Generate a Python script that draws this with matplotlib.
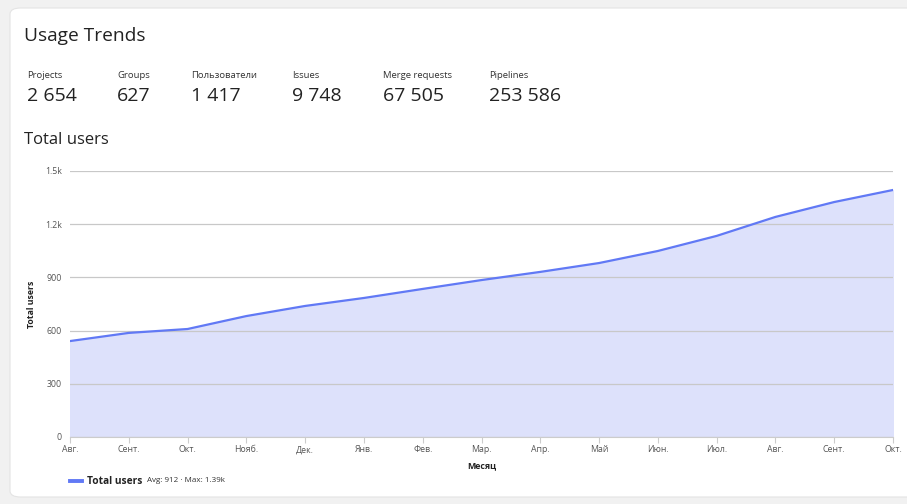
import matplotlib.pyplot as plt
from matplotlib.patches import FancyBboxPatch

# datos
months = ["Авг.", "Сент.", "Окт.", "Нояб.", "Дек.", "Янв.", "Фев.", "Мар.",
          "Апр.", "Май", "Июн.", "Июл.", "Авг.", "Сент.", "Окт."]
total_users = [541, 587, 609, 682, 739, 784, 835, 885, 931, 981, 1049, 1134, 1241, 1325, 1393]
y_ticks = [0, 300, 600, 900, 1200, 1500]
y_tick_labels = ["0", "300", "600", "900", "1.2k", "1.5k"]

stat_names = ["Projects", "Groups", "Пользователи", "Issues", "Merge requests", "Pipelines"]
stat_values = ["2 654", "627", "1 417", "9 748", "67 505", "253 586"]
stat_x = [27, 117, 191, 292, 383, 489]

plt.rcParams['font.family'] = ['Open Sans', 'DejaVu Sans']

W, H = 907, 504
fig = plt.figure(figsize=(W / 100, H / 100), dpi=100, facecolor='#f1f1f1')

def fx(px):
    return px / W

def fy(py):
    return 1 - py / H

# tarjeta blanca
card = FancyBboxPatch((fx(10), fy(497)), fx(940) - fx(10), fy(8) - fy(497),
                      boxstyle="round,pad=0,rounding_size=0.012",
                      transform=fig.transFigure, facecolor='white',
                      edgecolor='#e4e4e4', linewidth=0.8, zorder=-10)
fig.patches.append(card)

fig.text(fx(24), fy(36), "Usage Trends", fontsize=13.8, fontweight='medium', color='#222222', va='center')
for name, val, x in zip(stat_names, stat_values, stat_x):
    fig.text(fx(x), fy(75), name, fontsize=6.8, color='#333333', va='center')
    fig.text(fx(x), fy(96), val, fontsize=14, fontweight='medium', color='#222222', va='center')
fig.text(fx(24), fy(140), "Total users", fontsize=12, fontweight='medium', color='#222222', va='center')

ax = fig.add_axes([fx(70), fy(437), fx(893) - fx(70), fy(171) - fy(437)])
ax.set_facecolor('none')
x = range(len(months))
ax.fill_between(x, total_users, 0, color='#dde1fb', zorder=1)
ax.plot(x, total_users, color='#6179f5', linewidth=1.6, zorder=3)

ax.set_xlim(0, len(months) - 1)
ax.set_ylim(0, 1500)
ax.set_yticks(y_ticks)
ax.set_yticklabels(y_tick_labels)
ax.set_xticks(list(x))
ax.set_xticklabels(months)
ax.grid(axis='y', color='#c8c8c8', linewidth=0.9, zorder=2)
ax.set_axisbelow(False)
for s in ['top', 'right', 'left']:
    ax.spines[s].set_visible(False)
ax.spines['bottom'].set_color('#cccccc')
ax.tick_params(axis='x', colors='#cccccc', labelcolor='#555555', labelsize=6.3, length=4, pad=2)
ax.tick_params(axis='y', colors='#cccccc', labelcolor='#555555', labelsize=6.3, length=0, pad=6)
ax.set_ylabel("Total users", fontsize=6.3, fontweight='bold', color='#222222', labelpad=6)
ax.set_xlabel("Месяц", fontsize=6.3, fontweight='bold', color='#222222', labelpad=5)

# leyenda
fig.add_artist(plt.Line2D([fx(70), fx(82)], [fy(481), fy(481)], color='#6179f5',
                          linewidth=2.8, transform=fig.transFigure))
fig.text(fx(87), fy(481), "Total users", fontsize=7.3, fontweight='bold', color='#222222', va='center')
fig.text(fx(147), fy(481), "Avg: 912 · Max: 1.39k", fontsize=5.8, color='#333333', va='center')

fig.savefig("out.png", dpi=100, facecolor=fig.get_facecolor())
